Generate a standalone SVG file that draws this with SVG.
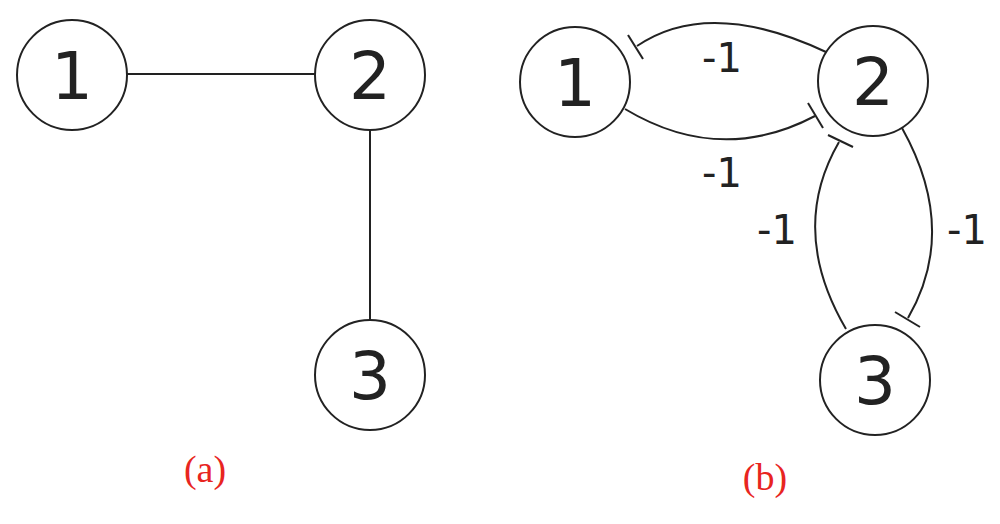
<svg xmlns="http://www.w3.org/2000/svg" width="1000" height="524" viewBox="0 0 1000 524">
<style>
.n{fill:#fff;stroke:#222;stroke-width:2}
.t{font-family:"DejaVu Sans",sans-serif;font-size:66px;fill:#222;text-anchor:middle}
.e{fill:none;stroke:#222;stroke-width:2}
.l{font-family:"DejaVu Sans",sans-serif;font-size:40px;fill:#222;text-anchor:middle}
.c{font-family:"Liberation Serif",serif;font-size:38px;fill:#e8251f;text-anchor:middle}
</style>
<rect width="1000" height="524" fill="#fff"/>
<g id="connectors">
<line class="e" x1="127" y1="74" x2="315" y2="74"/>
<line class="e" x1="370" y1="130" x2="370" y2="320"/>
<path class="e" d="M826,52 Q709,-3 637,46"/>
<line class="e" x1="628" y1="35" x2="643" y2="59"/>
<path class="e" d="M625,109 Q720,166 815,116"/>
<line class="e" x1="808" y1="103" x2="823" y2="128"/>
<path class="e" d="M846,329 Q788,230 839,142"/>
<line class="e" x1="828" y1="135" x2="853" y2="147"/>
<path class="e" d="M902,128 Q959,230 908,318"/>
<line class="e" x1="895" y1="312" x2="920" y2="327"/>
<text class="l" x="722" y="72">-1</text>
<text class="l" x="722" y="187">-1</text>
<text class="l" x="777" y="244">-1</text>
<text class="l" x="967" y="244">-1</text>
</g>
<g id="a1"><circle class="n" cx="72" cy="75" r="55"/><text class="t" x="72" y="99">1</text></g>
<g id="a2"><circle class="n" cx="370" cy="75" r="55"/><text class="t" x="370" y="99">2</text></g>
<g id="a3"><circle class="n" cx="370" cy="375" r="55"/><text class="t" x="370" y="399">3</text></g>
<g id="b1"><circle class="n" cx="575" cy="82" r="55"/><text class="t" x="575" y="106">1</text></g>
<g id="b2"><circle class="n" cx="873" cy="81" r="55"/><text class="t" x="873" y="105">2</text></g>
<g id="b3"><circle class="n" cx="875" cy="380" r="55"/><text class="t" x="875" y="404">3</text></g>
<text class="c" x="205" y="482">(a)</text>
<text class="c" x="765" y="490">(b)</text>
</svg>
